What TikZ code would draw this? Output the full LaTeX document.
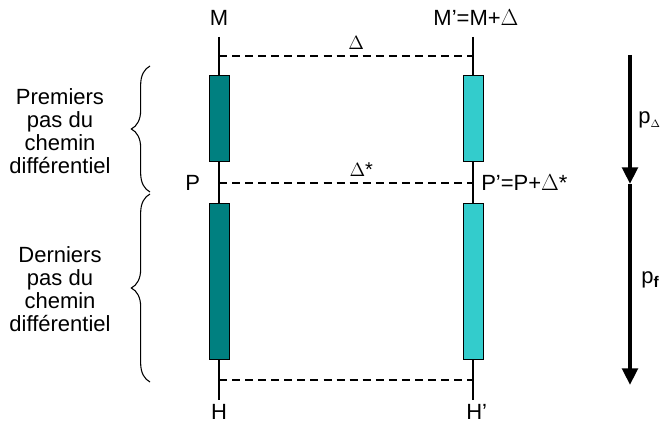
\documentclass[tikz,border=0pt]{standalone}
\usepackage{fontspec}
\setmainfont{Liberation Sans}
\usetikzlibrary{arrows.meta,positioning,decorations.pathreplacing}
\definecolor{pathTeal}{RGB}{0,128,128}
\definecolor{pathCyan}{RGB}{51,204,204}

\begin{document}
\begin{tikzpicture}[x=0.75pt, y=-0.75pt, line join=miter,
    lbl/.style={font=\fontsize{16.5}{17.3}\selectfont, inner sep=0pt},
    axis/.style={line width=1.1pt},
    gap/.style={line width=1.1pt, dash pattern=on 6pt off 3.8pt},
    stepL/.style={draw=black, line width=0.6pt, fill=pathTeal, minimum width=15.5pt, inner sep=0pt},
    stepR/.style={draw=black, line width=0.6pt, fill=pathCyan, minimum width=15.5pt, inner sep=0pt},
    bracket/.style={decorate, decoration={brace, amplitude=14pt}, line width=0.8pt},
    flow/.style={line width=3.3pt, -{Triangle[length=12.5pt, width=11.5pt]}}]
  \useasboundingbox (0,0) rectangle (662,428);

  % end labels
  \node[lbl, anchor=base] (M)  at (219,26) {M};
  \node[lbl, anchor=base] (Mp) at (476,26) {M'=M+$\Delta$};
  \node[lbl, anchor=base] (H)  at (219,420) {H};
  \node[lbl, anchor=base west] (Hp) at (466,420) {H'};

  % the two paths
  \coordinate (topL) at (219,37);
  \coordinate (botL) at (219,400);
  \coordinate (topR) at (473,37);
  \coordinate (botR) at (473,400);
  \draw[axis] (topL) -- (botL);
  \draw[axis] (topR) -- (botR);

  \node[stepL, minimum height=65pt] (firstL) at (219.5,118.5) {};
  \node[stepL, minimum height=117pt] (lastL) at (219.5,281) {};
  \node[stepR, minimum height=65pt] (firstR) at (473.5,118.5) {};
  \node[stepR, minimum height=117pt] (lastR) at (473.5,281) {};

  % gaps between the paths
  \coordinate (dM) at (219,56);
  \coordinate (dMp) at (473,56);
  \coordinate (dP) at (219,183);
  \coordinate (dPp) at (473,183);
  \coordinate (dH) at (219,380);
  \coordinate (dHp) at (473,380);
  \draw[gap] (dM) -- node[pos=0.54, above=1pt, font=\fontsize{15}{15}\selectfont] (delta) {$\Delta$} (dMp);
  \draw[gap] (dP) -- node[pos=0.56, above=1pt, font=\fontsize{15}{15}\selectfont] (deltaS) {$\Delta$*} (dPp);
  \draw[gap] (dH) -- (dHp);

  \node[lbl, left=14pt of dP] (P) {P};
  \node[lbl, right=6pt of dPp] (Pp) {P'=P+$\Delta$*};

  % braces and captions
  \coordinate (brA) at (150,192);
  \coordinate (brB) at (150,66);
  \coordinate (brC) at (150,382);
  \coordinate (brD) at (150,194);
  \draw[bracket] (brA) -- (brB);
  \draw[bracket] (brC) -- (brD);
  \node[lbl, align=center] (first) at (60,131) {Premiers\\pas du\\chemin\\différentiel};
  \node[lbl, align=center] (last) at (60,289) {Derniers\\pas du\\chemin\\différentiel};

  % step sizes
  \coordinate (fA) at (630,55);
  \coordinate (fB) at (630,184);
  \coordinate (fC) at (630,385);
  \draw[flow] (fA) -- (fB);
  \draw[flow] (fB) -- (fC);
  \node[lbl, anchor=base west] (pD) at (638,124) {p$_{\scriptscriptstyle\Delta}$};
  \node[lbl, anchor=base west] (pF) at (641,284) {p$_{\mathbf{f}}$};
\end{tikzpicture}
\end{document}
